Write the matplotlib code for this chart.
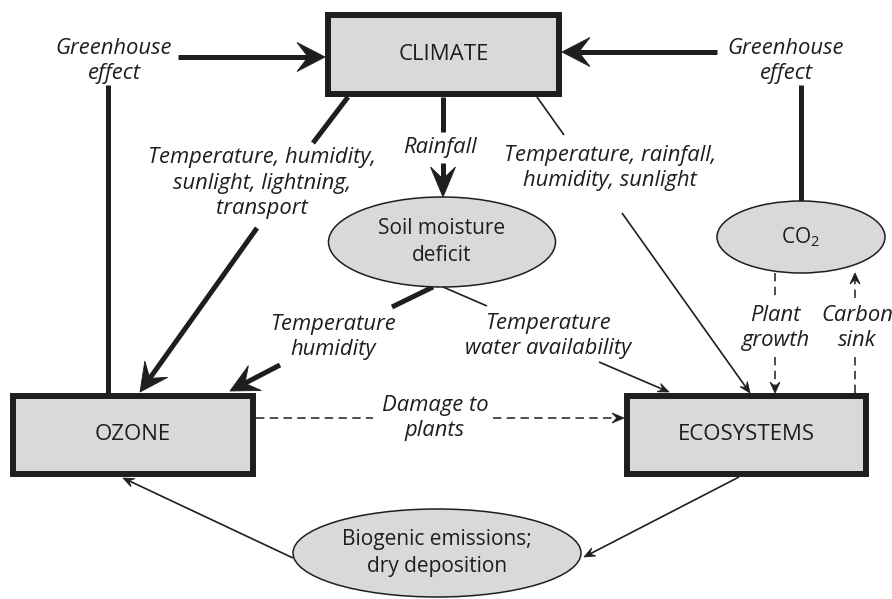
import numpy as np
import matplotlib
matplotlib.use("Agg")
import matplotlib.pyplot as plt
from matplotlib.patches import Rectangle, Ellipse, Polygon

# --- diagram content ---
box_labels = ["CLIMATE", "OZONE", "ECOSYSTEMS"]
oval_labels = ["Soil moisture\ndeficit", "CO$_2$", "Biogenic emissions;\ndry deposition"]
link_labels = [
    "Greenhouse\neffect",
    "Greenhouse\neffect",
    "Temperature, humidity,\nsunlight, lightning,\ntransport",
    "Rainfall",
    "Temperature, rainfall,\nhumidity, sunlight",
    "Temperature\nhumidity",
    "Temperature\nwater availability",
    "Damage to\nplants",
    "Plant\ngrowth",
    "Carbon\nsink",
]

# --- layout (pixel units, y down) ---
box_xywh = [(328, 15, 231, 79), (13, 396, 240, 78), (627, 396, 239, 78)]
oval_cwh = [(442, 242, 227, 90), (801, 237, 168, 72), (437, 553, 288, 88)]
label_xy = [(114, 61), (786, 61), (262, 183), (440, 148), (610, 168),
            (333, 337), (548, 336), (435, 418), (775, 328), (857, 328)]

INK = "#1e1e1e"
FILL = "#d9d9d9"
FONT = "Open Sans"
plt.rcParams["mathtext.fontset"] = "custom"
plt.rcParams["mathtext.rm"] = FONT

fig = plt.figure(figsize=(8.92, 5.99), dpi=100)
ax = fig.add_axes([0, 0, 1, 1])
ax.set_xlim(0, 892)
ax.set_ylim(599, 0)
ax.axis("off")


def head(tip, tail, length, width):
    # stealth-like arrow head, returns point where the shaft should stop
    d = np.array(tip, float) - np.array(tail, float)
    u = d / np.hypot(*d)
    p = np.array([-u[1], u[0]])
    tip = np.array(tip, float)
    back = tip - u * length
    notch = tip - u * length * 0.6
    pts = [tip, back + p * width / 2, notch, back - p * width / 2]
    ax.add_patch(Polygon(pts, closed=True, fc=INK, ec=INK, lw=0.6, zorder=4))
    return notch


def line(a, b, lw, dashed=False):
    ls = (0, (5.5, 3.5)) if dashed else "-"
    ax.plot([a[0], b[0]], [a[1], b[1]], color=INK, lw=lw, ls=ls,
            solid_capstyle="butt", zorder=3)


def arrow(tail, tip, lw, hl, hw, dashed=False):
    n = head(tip, tail, hl, hw)
    line(tail, n, lw, dashed)


THICK, THIN, DASH = 3.6, 1.2, 1.1

for (x, y, w, h), lab in zip(box_xywh, box_labels):
    ax.add_patch(Rectangle((x, y), w, h, fc=FILL, ec=INK, lw=4.3,
                           joinstyle="miter", zorder=5))
    ax.text(x + w / 2, y + h / 2, lab, ha="center", va="center",
            fontsize=16, family=FONT, color=INK, zorder=6)

for (cx, cy, w, h), lab in zip(oval_cwh, oval_labels):
    ax.add_patch(Ellipse((cx, cy), w, h, fc=FILL, ec=INK, lw=1.1, zorder=5))
    ax.text(cx, cy, lab, ha="center", va="center", fontsize=15,
            family=FONT, color=INK, linespacing=1.4, zorder=6)

for (x, y), lab in zip(label_xy, link_labels):
    ax.text(x, y, lab, ha="center", va="center", fontsize=15.8, family=FONT,
            style="italic", color=INK, linespacing=1.3, zorder=6)

# greenhouse effect links
arrow((178, 57), (325, 57), THICK, 28, 29)
line((108, 85), (108, 393), THICK)
arrow((717, 52), (562, 52), THICK, 28, 29)
line((801, 85), (801, 201), THICK)

# climate -> ozone
line((348, 97), (313, 143), THICK)
arrow((257, 228), (140, 392), THICK, 28, 28)

# rainfall
line((443, 97), (443, 132), THICK)
arrow((443, 163), (443, 197), THICK, 30, 25)

# climate -> ecosystems
line((537, 97), (564, 135), THIN)
arrow((622, 213), (750, 393), THIN, 11, 9)

# soil moisture -> ozone / ecosystems
line((433, 287), (392, 307), THICK)
arrow((280, 365), (230, 391), THICK, 28, 28)
line((443, 287), (487, 306), THIN)
arrow((599, 362), (669, 392), THIN, 11, 9)

# damage to plants
line((256, 418), (373, 418), DASH, dashed=True)
arrow((493, 418), (624, 418), DASH, 12, 10, dashed=True)

# CO2 <-> ecosystems
line((775, 273), (775, 298), DASH, dashed=True)
arrow((775, 357), (775, 393), DASH, 11, 10, dashed=True)
line((855, 393), (855, 357), DASH, dashed=True)
arrow((855, 298), (855, 273), DASH, 11, 10, dashed=True)

# biogenic emissions loop
arrow((739, 477), (584, 557), THIN, 11, 9)
arrow((293, 558), (123, 478), THIN, 11, 9)

fig.savefig("out.png", dpi=100)
